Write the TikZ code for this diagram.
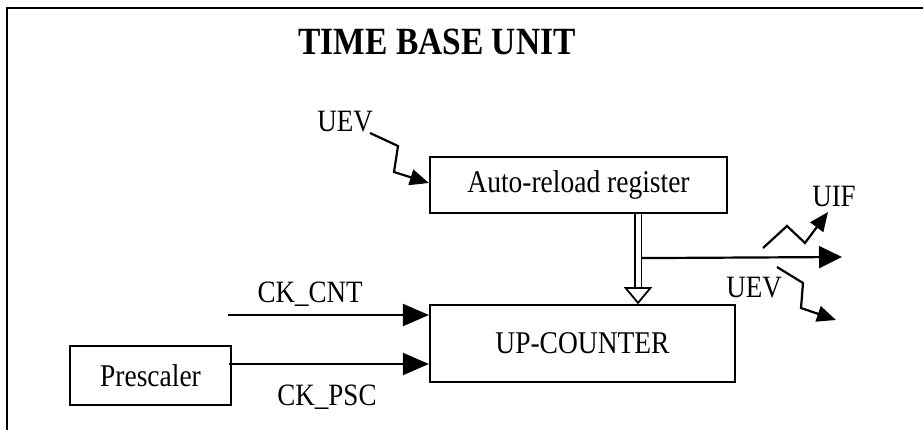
\documentclass[tikz,border=0pt]{standalone}
\usepackage{fontspec}
\setmainfont{Liberation Serif}
\usetikzlibrary{arrows.meta,calc}
\newcommand\vst[1]{\scalebox{1}[1.15]{#1}}
\begin{document}
\begin{tikzpicture}[x=1pt,y=-1pt,
  box/.style={draw, line width=2.2pt, inner sep=0pt, font=\fontsize{27.5}{30}\selectfont},
  lbl/.style={inner sep=0pt, font=\fontsize{27}{30}\selectfont},
  ttl/.style={inner sep=0pt, font=\fontsize{33.5}{36}\selectfont\bfseries},
  sig/.style={line width=2.2pt, -{Triangle[length=26pt,width=22pt]}},
  outsig/.style={line width=2.2pt, -{Triangle[length=23pt,width=22pt]}},
  zig/.style={line width=2.2pt, line join=miter, -{Triangle[length=19pt,width=16pt]}},
  frame/.style={line width=2.6pt}]
\useasboundingbox (0,0) rectangle (923,430);
% frame
\draw[frame] (7,431) -- (7,8) -- (924,8);
% title
\node[ttl, anchor=base] (title) at (437,55) {\vst{TIME BASE UNIT}};
% boxes
\node[box, minimum width=297pt, minimum height=56pt] (arr) at (578.5,185) {\vst{Auto-reload register}};
\node[box, minimum width=305pt, minimum height=77pt] (cnt) at (582.5,343.5) {\vst{UP-COUNTER}};
\node[box, minimum width=161pt, minimum height=59pt] (pre) at (150.5,375.5) {\vst{Prescaler}};
% clock inputs
\coordinate (cntin) at (228,315);
\draw[sig] (cntin) -- (cntin -| cnt.west);
\coordinate (pscout) at ($(pre.east)+(-3,-11.5)$);
\draw[sig] (pscout) -- (pscout -| cnt.west);
\node[lbl, anchor=base] (lcnt) at (310,302) {\vst{CK\_CNT}};
\node[lbl, anchor=base] (lpsc) at (327,405) {\vst{CK\_PSC}};
% double (transfer) arrow
\path (arr.south) ++(59.5,0) coordinate (dtop);
\coordinate (dbot) at (dtop |- cnt.north);
\draw[line width=1.8pt] ($(dtop)+(-3.4,0)$) -- ($(dbot)+(-3.4,-16)$);
\draw[line width=1.8pt] ($(dtop)+(3.4,0)$) -- ($(dbot)+(3.4,-16)$);
\draw[line width=1.8pt, fill=white, line join=miter] ($(dbot)+(-12.5,-16)$) -- ($(dbot)+(12.5,-16)$) -- ($(dbot)+(0,-1)$) -- cycle;
% update output
\path (dtop) ++(3.4,44) coordinate (junc);
\coordinate (uout) at (842,257);
\draw[outsig] (junc) -- (uout);
% UIF zigzag
\coordinate (uifs) at (763,248);
\coordinate (uife) at (828,212);
\draw[zig] (uifs) -- (787,226) -- (805,243) -- (uife);
\node[lbl, anchor=base] (luif) at (834,207) {\vst{UIF}};
% lower UEV zigzag
\coordinate (uevs) at (777,267);
\coordinate (ueve) at (836,320);
\draw[zig] (uevs) -- (803,283) -- (801,308) -- (ueve);
\node[lbl, anchor=base] (luev2) at (754,297) {\vst{UEV}};
% upper UEV zigzag
\coordinate (uev1s) at (370,133);
\draw[zig] (uev1s) -- (398,146) -- (394,172) -- ($(arr.west)+(0,-2)$);
\node[lbl, anchor=base] (luev1) at (345,132) {\vst{UEV}};
\end{tikzpicture}
\end{document}
